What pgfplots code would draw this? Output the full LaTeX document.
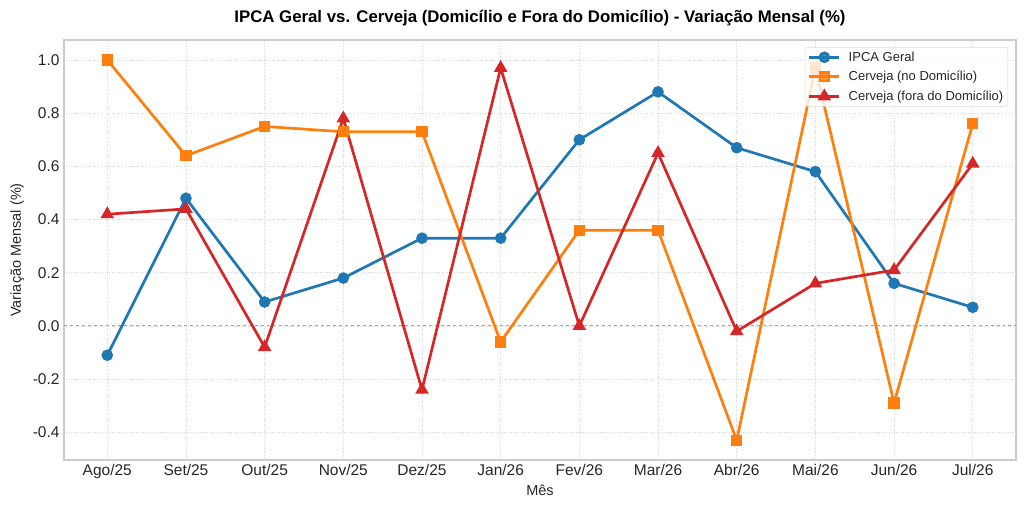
\documentclass[border=0pt]{standalone}
\usepackage{pgfplots}
\pgfplotsset{compat=1.18}
\usepackage{fontspec}
\setmainfont{Liberation Sans}
\definecolor{tblue}{HTML}{1F77B4}
\definecolor{torange}{HTML}{FF7F0E}
\definecolor{tred}{HTML}{D62728}
\begin{document}
\begin{tikzpicture}[x=1bp,y=1bp]
\path[use as bounding box] (0,0) rectangle (1024,507);
\begin{axis}[
  at={(64bp,47bp)}, anchor=south west,
  scale only axis, width=952bp, height=420bp,
  xmin=-0.55, xmax=11.55, ymin=-0.504, ymax=1.075,
  xtick={0,...,11},
  xticklabels={Ago/25,Set/25,Out/25,Nov/25,Dez/25,Jan/26,Fev/26,Mar/26,Abr/26,Mai/26,Jun/26,Jul/26},
  ytick={-0.4,-0.2,0,0.2,0.4,0.6,0.8,1.0},
  yticklabel style={xshift=-1bp,/pgf/number format/.cd,fixed,fixed zerofill,precision=1},
  /pgf/number format/assume math mode=true,
  tick style={draw=none},
  ticklabel style={font=\fontsize{15.5bp}{17bp}\selectfont, text=black!85},
  xticklabel style={yshift=-1bp},
  grid=major,
  grid style={dotted, gray!30, line width=0.8bp},
  axis line style={draw=gray!40, line width=1.2bp},
  title={\bfseries IPCA Geral vs. Cerveja (Domicílio e Fora do Domicílio) - Variação Mensal (\%)},
  title style={font=\fontsize{16.8bp}{19bp}\selectfont, at={(0.5,1)}, anchor=center, yshift=16bp},
  xlabel={Mês}, ylabel={Variação Mensal (\%)},
  label style={font=\fontsize{14.5bp}{16bp}\selectfont, text=black!85},
  xlabel style={yshift=1bp},
  ylabel style={yshift=2bp},
  legend style={at={(0.9916,0.983)}, anchor=north east, font=\fontsize{13bp}{15bp}\selectfont,
    draw=gray!30, fill=white, fill opacity=0.8, text opacity=1, rounded corners=2bp,
    row sep=4.5bp, inner sep=2.5bp, text=black!85},
  legend cell align=left,
  legend image code/.code={
    \draw[mark repeat=2,mark phase=2] plot coordinates {(0bp,0bp) (15bp,0bp) (30bp,0bp)};},
  every axis plot/.append style={line width=2.7bp},
]
\addplot[gray!70, dashed, line width=0.9bp, forget plot] coordinates {(-0.55,0) (11.55,0)};
\addplot[tblue, mark=*, mark size=4.4bp, mark options={solid}] coordinates {
(0,-0.11) (1,0.48) (2,0.09) (3,0.18) (4,0.33) (5,0.33) (6,0.70) (7,0.88) (8,0.67) (9,0.58) (10,0.16) (11,0.07)};
\addlegendentry{\hspace{6bp}IPCA Geral}
\addplot[torange, mark=square*, mark size=4.3bp] coordinates {
(0,1.00) (1,0.64) (2,0.75) (3,0.73) (4,0.73) (5,-0.06) (6,0.36) (7,0.36) (8,-0.43) (9,0.97) (10,-0.29) (11,0.76)};
\addlegendentry{\hspace{6bp}Cerveja (no Domicílio)}
\addplot[tred, mark=triangle*, mark size=5.2bp] coordinates {
(0,0.42) (1,0.44) (2,-0.08) (3,0.78) (4,-0.24) (5,0.97) (6,0.00) (7,0.65) (8,-0.02) (9,0.16) (10,0.21) (11,0.61)};
\addlegendentry{\hspace{6bp}Cerveja (fora do Domicílio)}
\end{axis}
\end{tikzpicture}
\end{document}
